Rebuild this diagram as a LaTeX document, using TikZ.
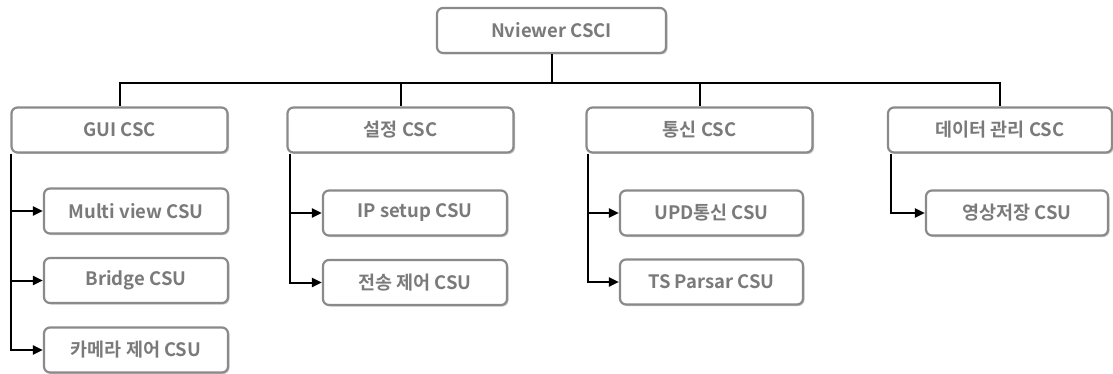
\documentclass[tikz,border=0pt]{standalone}
\usepackage{fontspec}
\setmainfont{Noto Sans CJK KR}[BoldFont={Noto Sans CJK KR Bold}]
\usepackage{tikz}
\usetikzlibrary{positioning, arrows.meta, shadows, calc}

\definecolor{boxgray}{HTML}{8A8A8A}
\definecolor{txtgray}{HTML}{7A7A7A}

\tikzset{
  unitbox/.style={draw=boxgray, line width=2.2pt, rounded corners=6pt,
                  fill=white, text=txtgray,
                  font=\fontsize{18.5}{20}\selectfont\bfseries,
                  minimum height=45pt, inner sep=0pt,
                  drop shadow={shadow xshift=1.5pt, shadow yshift=-1.5pt,
                               fill=black!35, opacity=.6}},
  cscbox/.style={unitbox, minimum width=226pt},
  csubox/.style={unitbox, minimum width=184pt},
  link/.style={line width=2pt, black},
  childarrow/.style={link, -{Triangle[length=10pt, width=9pt]}}
}

\begin{document}
\begin{tikzpicture}[x=1pt, y=-1pt]
  \useasboundingbox (0,0) rectangle (1113,374);

  %% ── Top level ──────────────────────────────────────────────
  \node[unitbox, minimum width=229pt] (csci) at (551.5, 30.5) {Nviewer CSCI};

  %% ── CSC row ────────────────────────────────────────────────
  \node[cscbox, minimum width=216pt] (gui)  at (119.5, 130) {GUI CSC};
  \node[cscbox] (conf) at (400.5, 130) {설정 CSC};
  \node[cscbox] (comm) at (699.5, 130) {통신 CSC};
  \node[cscbox, minimum width=224pt] (data) at (1000, 130) {데이터 관리 CSC};

  %% ── CSU boxes ──────────────────────────────────────────────
  % GUI CSC
  \node[csubox] (multi)  at (136, 211)   {Multi view CSU};
  \node[csubox] (bridge) at (136, 280.5) {Bridge CSU};
  \node[csubox] (camera) at (136, 350)   {카메라 제어 CSU};
  % 설정 CSC
  \node[csubox] (ipset)  at (415, 213)   {IP setup CSU};
  \node[csubox] (txctl)  at (415, 282.5) {전송 제어 CSU};
  % 통신 CSC
  \node[csubox, minimum width=183pt] (udp)   at (711.5, 213) {UPD통신 CSU};
  \node[csubox, minimum width=183pt] (parse) at (711.5, 282) {TS Parsar CSU};
  % 데이터 관리 CSC
  \node[csubox, minimum width=182pt] (store) at (1017, 213) {영상저장 CSU};

  %% ── Tree connectors ────────────────────────────────────────
  \coordinate (bus) at (551.5, 83);
  \draw[link] (csci.south) -- (bus);
  \draw[link] (bus) -| (gui.north);
  \draw[link] (bus) -| (conf.north);
  \draw[link] (bus) -| (comm.north);
  \draw[link] (bus) -| (data.north);

  % trunks under each CSC
  \coordinate (guiT)  at ($(gui.south west)+(0.5,0)$);
  \coordinate (confT) at ($(conf.south west)+(4,0)$);
  \coordinate (commT) at ($(comm.south west)+(2.5,0)$);
  \coordinate (dataT) at ($(data.south west)+(4,0)$);

  \draw[childarrow] (guiT) |- (multi.west);
  \draw[childarrow] (guiT) |- (bridge.west);
  \draw[childarrow] (guiT) |- (camera.west);
  \draw[childarrow] (confT) |- (ipset.west);
  \draw[childarrow] (confT) |- (txctl.west);
  \draw[childarrow] (commT) |- (udp.west);
  \draw[childarrow] (commT) |- (parse.west);
  \draw[childarrow] (dataT) |- (store.west);

\end{tikzpicture}
\end{document}
